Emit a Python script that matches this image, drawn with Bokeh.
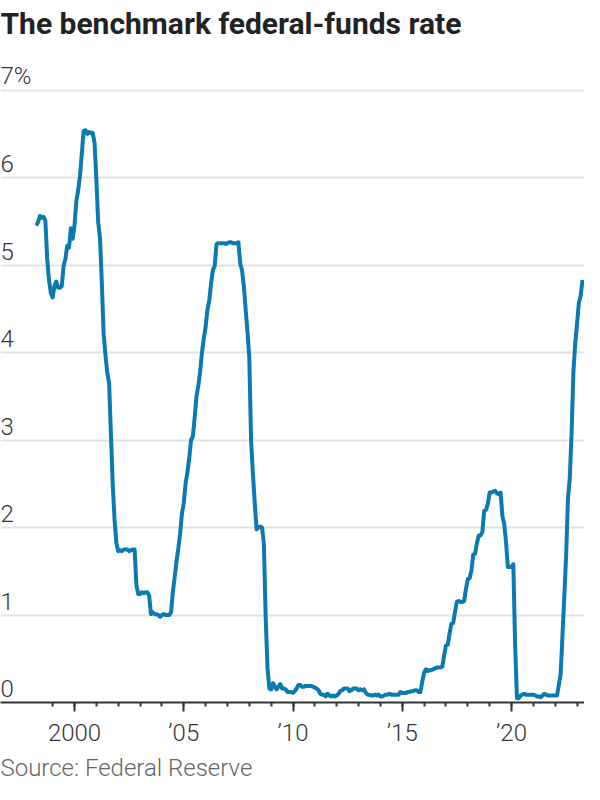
from bokeh.plotting import figure
from bokeh.models import Range1d, FixedTicker, Label, Title, ColumnDataSource
from bokeh.core.properties import value
from bokeh.embed import file_html
from bokeh.resources import INLINE

# ---- data: effective federal-funds rate, monthly, %, from April 1998 ----
start_year = 1998
start_month = 4
rate_1998 = [5.45, 5.49, 5.56, 5.54, 5.55, 5.51, 5.07, 4.83, 4.68]
rate_1999 = [4.63, 4.76, 4.81, 4.74, 4.74, 4.76, 4.99, 5.07, 5.22, 5.20, 5.42, 5.30]
rate_2000 = [5.45, 5.73, 5.85, 6.02, 6.27, 6.53, 6.54, 6.50, 6.52, 6.51, 6.51, 6.40]
rate_2001 = [5.98, 5.49, 5.31, 4.80, 4.21, 3.97, 3.77, 3.65, 3.07, 2.49, 2.09, 1.82]
rate_2002 = [1.73, 1.74, 1.73, 1.75, 1.75, 1.75, 1.73, 1.74, 1.75, 1.75, 1.34, 1.24]
rate_2003 = [1.24, 1.26, 1.25, 1.26, 1.26, 1.22, 1.01, 1.03, 1.01, 1.01, 1.00, 0.98]
rate_2004 = [1.00, 1.01, 1.00, 1.00, 1.00, 1.03, 1.26, 1.43, 1.61, 1.76, 1.93, 2.16]
rate_2005 = [2.28, 2.50, 2.63, 2.79, 3.00, 3.04, 3.26, 3.50, 3.62, 3.78, 4.00, 4.16]
rate_2006 = [4.29, 4.49, 4.59, 4.79, 4.94, 4.99, 5.24, 5.25, 5.25, 5.25, 5.25, 5.24]
rate_2007 = [5.25, 5.26, 5.26, 5.25, 5.25, 5.25, 5.26, 5.02, 4.94, 4.76, 4.49, 4.24]
rate_2008 = [3.94, 2.98, 2.61, 2.28, 1.98, 2.00, 2.01, 2.00, 1.81, 0.97, 0.39, 0.16]
rate_2009 = [0.15, 0.22, 0.18, 0.15, 0.18, 0.21, 0.16, 0.16, 0.15, 0.12, 0.12, 0.12]
rate_2010 = [0.11, 0.13, 0.16, 0.20, 0.20, 0.18, 0.18, 0.19, 0.19, 0.19, 0.19, 0.18]
rate_2011 = [0.17, 0.16, 0.14, 0.10, 0.09, 0.09, 0.07, 0.10, 0.08, 0.07, 0.08, 0.07]
rate_2012 = [0.08, 0.10, 0.13, 0.14, 0.16, 0.16, 0.16, 0.13, 0.14, 0.16, 0.16, 0.16]
rate_2013 = [0.14, 0.15, 0.14, 0.15, 0.11, 0.09, 0.09, 0.08, 0.08, 0.09, 0.08, 0.09]
rate_2014 = [0.07, 0.07, 0.08, 0.09, 0.09, 0.10, 0.09, 0.09, 0.09, 0.09, 0.09, 0.12]
rate_2015 = [0.11, 0.11, 0.11, 0.12, 0.12, 0.13, 0.13, 0.14, 0.14, 0.12, 0.12, 0.24]
rate_2016 = [0.34, 0.38, 0.36, 0.37, 0.37, 0.38, 0.39, 0.40, 0.40, 0.40, 0.41, 0.54]
rate_2017 = [0.65, 0.66, 0.79, 0.90, 0.91, 1.04, 1.15, 1.16, 1.15, 1.15, 1.16, 1.30]
rate_2018 = [1.41, 1.42, 1.51, 1.69, 1.70, 1.82, 1.91, 1.91, 1.95, 2.19, 2.20, 2.27]
rate_2019 = [2.40, 2.40, 2.41, 2.42, 2.39, 2.38, 2.40, 2.13, 2.04, 1.83, 1.55, 1.55]
rate_2020 = [1.55, 1.58, 0.65, 0.05, 0.05, 0.08, 0.09, 0.10, 0.09, 0.09, 0.09, 0.09]
rate_2021 = [0.09, 0.08, 0.07, 0.07, 0.06, 0.08, 0.10, 0.09, 0.08, 0.08, 0.08, 0.08]
rate_2022 = [0.08, 0.08, 0.20, 0.33, 0.77, 1.21, 1.68, 2.33, 2.56, 3.08, 3.78, 4.10]
rate_2023 = [4.33, 4.57, 4.65, 4.83]

major_years = [2000, 2005, 2010, 2015, 2020]
major_labels = ["2000", "\u201905", "\u201910", "\u201915", "\u201920"]
minor_years = list(range(1999, 2024))
y_ticks = [0, 1, 2, 3, 4, 5, 6, 7]
y_labels = ["0", "1", "2", "3", "4", "5", "6", "7%"]

title_text = "The benchmark federal-funds rate"
source_text = "Source: Federal Reserve"

rates = (rate_1998 + rate_1999 + rate_2000 + rate_2001 + rate_2002 + rate_2003 +
         rate_2004 + rate_2005 + rate_2006 + rate_2007 + rate_2008 + rate_2009 +
         rate_2010 + rate_2011 + rate_2012 + rate_2013 + rate_2014 + rate_2015 +
         rate_2016 + rate_2017 + rate_2018 + rate_2019 + rate_2020 + rate_2021 +
         rate_2022 + rate_2023)
dates = [start_year + (start_month - 1 + i) / 12.0 for i in range(len(rates))]

# ---- styles ----
LINE = "#0a7ab0"
INK = "#333333"
GRID = "#e3e3e3"
LIGHT_FONT = "'Roboto Light', Roboto, 'Liberation Sans', sans-serif"
TITLE_FONT = "Roboto"

x0 = 1996.613
x1 = 2023.341
y_top = 8.023
p = figure(width=584, height=784,
           x_range=Range1d(x0, x1), y_range=Range1d(0, y_top),
           y_axis_location=None, toolbar_location=None, output_backend="svg",
           min_border_left=0, min_border_right=0, min_border_top=0,
           min_border_bottom=82, outline_line_color=None,
           background_fill_color="white", border_fill_color="white")

p.xgrid.visible = False
p.ygrid.ticker = FixedTicker(ticks=y_ticks[1:])
p.ygrid.grid_line_color = GRID
p.ygrid.grid_line_width = 2

ax = p.xaxis[0]
ax.ticker = FixedTicker(ticks=major_years, minor_ticks=minor_years)
ax.major_label_overrides = dict(zip(major_years, major_labels))
ax.axis_line_color = INK
ax.axis_line_width = 2
ax.major_tick_line_color = INK
ax.major_tick_line_width = 2
ax.major_tick_in = 0
ax.major_tick_out = 9
ax.minor_tick_line_color = INK
ax.minor_tick_line_width = 2
ax.minor_tick_in = 0
ax.minor_tick_out = 4
ax.major_label_text_font = LIGHT_FONT
ax.major_label_text_font_size = "24px"
ax.major_label_text_color = INK
ax.major_label_standoff = 7

p.line(x=dates, y=rates, line_color=LINE, line_width=4, line_join="round")

ysrc = ColumnDataSource(dict(x=[x0] * len(y_ticks), y=y_ticks, t=y_labels))
p.text(x="x", y="y", text="t", source=ysrc, text_align="left",
       text_baseline="middle", y_offset=-14,
       text_font=value(LIGHT_FONT), text_font_size="24px", text_color=INK)

# title, placed in screen pixels relative to the plot frame's bottom
p.add_layout(Label(x=0, y=679, x_units="screen", y_units="screen",
                   text=title_text, text_font=TITLE_FONT,
                   text_font_size="30px", text_font_style="bold",
                   text_color="#222222", text_baseline="middle",
                   text_align="left"))

p.add_layout(Title(text=source_text, align="left", text_font=LIGHT_FONT,
                   text_font_size="24px", text_font_style="normal",
                   text_color="#666666", standoff=5), "below")

open("out.html", "w").write(file_html(p, INLINE))
